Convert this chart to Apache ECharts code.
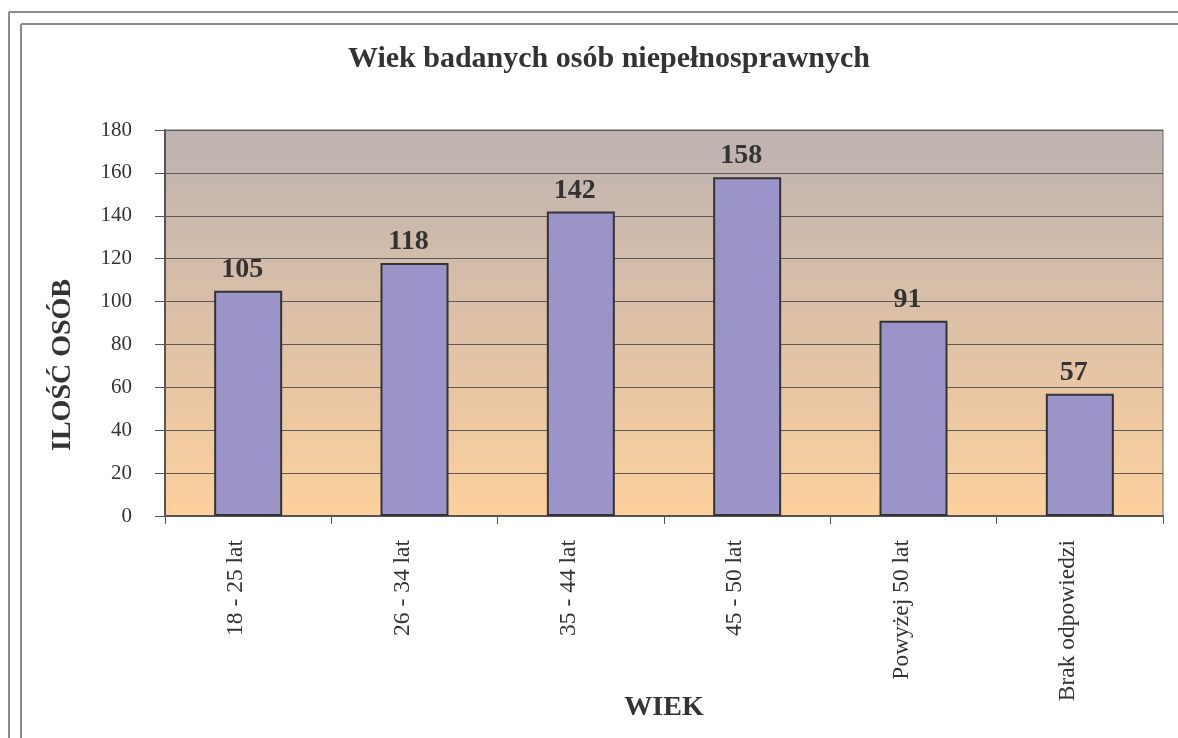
<!DOCTYPE html>
<html lang="pl">
<head>
<meta charset="UTF-8">
<title>Wiek badanych osób niepełnosprawnych</title>
<script src="https://cdn.jsdelivr.net/npm/echarts@6/dist/echarts.min.js"></script>
<style>
  html, body { margin: 0; padding: 0; background: #fff; }
  #chart { width: 1178px; height: 738px; }
</style>
</head>
<body>
<div id="chart"></div>
<script>
// dane
var kategorie = ['18 - 25 lat', '26 - 34 lat', '35 - 44 lat', '45 - 50 lat', 'Powyżej 50 lat', 'Brak odpowiedzi'];
var liczbaOsob = [105, 118, 142, 158, 91, 57];
var osY = { min: 0, max: 180, krok: 20 };

var font = 'Liberation Serif';
var ciemny = '#333';

var chart = echarts.init(document.getElementById('chart'));

var option = {
  backgroundColor: '#fff',
  animation: false,
  title: {
    text: 'Wiek badanych osób niepełnosprawnych',
    left: 604,
    top: 39,
    textAlign: 'center',
    textStyle: { fontFamily: font, fontSize: 30, fontWeight: 'bold', color: ciemny }
  },
  // ramka wokół wykresu
  graphic: [
    { type: 'line', shape: { x1: 9, y1: 12, x2: 1178, y2: 12 }, style: { stroke: '#8a8a8a', lineWidth: 2 } },
    { type: 'line', shape: { x1: 9, y1: 12, x2: 9, y2: 738 }, style: { stroke: '#8a8a8a', lineWidth: 2 } },
    { type: 'line', shape: { x1: 21, y1: 24, x2: 1178, y2: 24 }, style: { stroke: '#8a8a8a', lineWidth: 2 } },
    { type: 'line', shape: { x1: 21, y1: 24, x2: 21, y2: 738 }, style: { stroke: '#8a8a8a', lineWidth: 2 } }
  ],
  grid: {
    left: 165,
    right: 15,
    top: 130,
    bottom: 222,
    outerBoundsMode: 'none',
    show: true,
    borderColor: '#666',
    borderWidth: 1,
    backgroundColor: {
      type: 'linear', x: 0, y: 0, x2: 0, y2: 1,
      colorStops: [
        { offset: 0, color: '#bdb3b1' },
        { offset: 0.5, color: '#ddc0a6' },
        { offset: 1, color: '#fdd19d' }
      ]
    }
  },
  xAxis: {
    type: 'category',
    data: kategorie,
    name: 'WIEK',
    nameLocation: 'middle',
    nameGap: 178,
    nameMoveOverlap: false,
    nameTextStyle: { fontFamily: font, fontSize: 28, fontWeight: 'bold', color: ciemny },
    axisLine: { lineStyle: { color: '#555', width: 2 } },
    axisTick: { show: true, length: 8, lineStyle: { color: '#555' } },
    axisLabel: {
      rotate: 90,
      interval: 0,
      margin: 24,
      fontFamily: font,
      fontSize: 23.5,
      color: ciemny,
      verticalAlign: 'bottom'
    }
  },
  yAxis: {
    type: 'value',
    min: osY.min,
    max: osY.max,
    interval: osY.krok,
    name: 'ILOŚĆ OSÓB',
    nameLocation: 'middle',
    nameGap: 88,
    nameMoveOverlap: false,
    nameTextStyle: { fontFamily: font, fontSize: 28, fontWeight: 'bold', color: ciemny, padding: [0, 84, 0, 0] },
    axisLine: { show: true, lineStyle: { color: '#555', width: 2 } },
    axisTick: { show: true, length: 10, lineStyle: { color: '#555' } },
    axisLabel: { margin: 33, fontFamily: font, fontSize: 21, color: ciemny },
    splitLine: { show: true, lineStyle: { color: '#5a5a5a', width: 1 } }
  },
  series: [{
    type: 'bar',
    data: liczbaOsob,
    barWidth: 68,
    itemStyle: { color: '#9b94c8', borderColor: '#333', borderWidth: 2 },
    label: {
      show: true,
      position: 'top',
      distance: 7,
      offset: [-6, 0],
      fontFamily: font,
      fontSize: 28,
      fontWeight: 'bold',
      color: ciemny
    }
  }]
};

chart.setOption(option);
</script>
</body>
</html>
